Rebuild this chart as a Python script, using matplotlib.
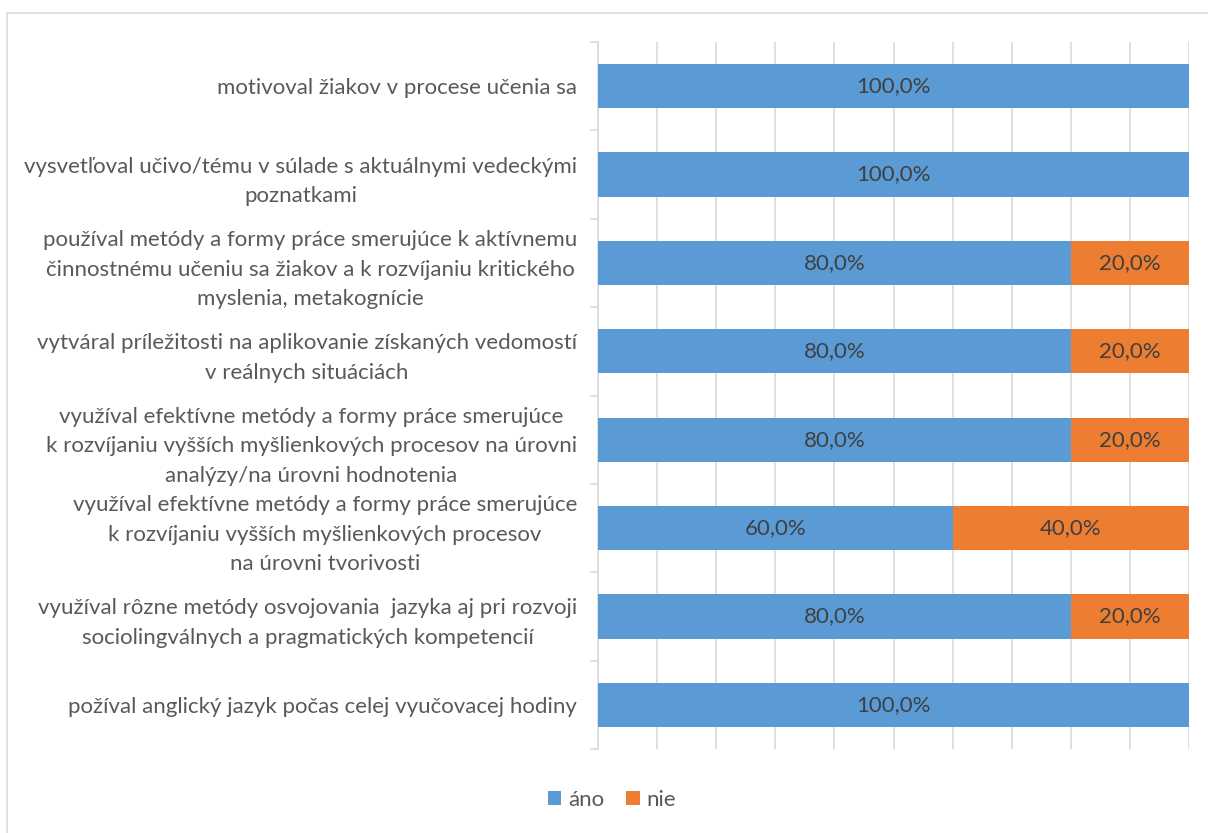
import matplotlib
matplotlib.use("Agg")
import matplotlib.pyplot as plt
from matplotlib.patches import Rectangle
import numpy as np

plt.rcParams['font.family'] = ['Lato', 'DejaVu Sans']

# categories, top to bottom
categories = [
    "motivoval žiakov v procese učenia sa",
    "vysvetľoval učivo/tému v súlade s aktuálnymi vedeckými\npoznatkami",
    "používal metódy a formy práce smerujúce k aktívnemu\nčinnostnému učeniu sa žiakov a k rozvíjaniu kritického\nmyslenia, metakognície",
    "vytváral príležitosti na aplikovanie získaných vedomostí\nv reálnych situáciách",
    "využíval efektívne metódy a formy práce smerujúce\nk rozvíjaniu vyšších myšlienkových procesov na úrovni\nanalýzy/na úrovni hodnotenia",
    "využíval efektívne metódy a formy práce smerujúce\nk rozvíjaniu vyšších myšlienkových procesov\nna úrovni tvorivosti",
    "využíval rôzne metódy osvojovania  jazyka aj pri rozvoji\nsociolingválnych a pragmatických kompetencií",
    "požíval anglický jazyk počas celej vyučovacej hodiny",
]
ano = [100.0, 100.0, 80.0, 80.0, 80.0, 60.0, 80.0, 100.0]
nie = [0.0, 0.0, 20.0, 20.0, 20.0, 40.0, 20.0, 0.0]
series_names = ["áno", "nie"]
colors = ["#5B9BD5", "#ED7D31"]

W, H = 1208, 833
fig = plt.figure(figsize=(W / 100, H / 100), dpi=100)
fig.patches.append(Rectangle((7 / W, -0.05), 1.2, 1 - 13 / H + 0.05,
                             transform=fig.transFigure, fill=False,
                             edgecolor="#D9D9D9", linewidth=1.2))

ax = fig.add_axes([598 / W, 84 / H, (1189 - 598) / W, (749 - 42) / H])
y = np.arange(len(categories))

b1 = ax.barh(y, ano, height=0.5, color=colors[0], label=series_names[0], zorder=3)
b2 = ax.barh(y, nie, left=ano, height=0.5, color=colors[1], label=series_names[1], zorder=3)

for bars, vals in ((b1, ano), (b2, nie)):
    for rect, v in zip(bars, vals):
        if v > 0:
            ax.text(rect.get_x() + rect.get_width() / 2, rect.get_y() + rect.get_height() / 2,
                    f"{v:.1f}%".replace(".", ","), ha="center", va="center",
                    fontsize=16, color="#404040", zorder=4)

ax.set_xlim(0, 100)
ax.set_ylim(len(categories) - 0.5, -0.5)
ax.set_xticks(np.arange(0, 101, 10))
ax.set_xticklabels([])
ax.tick_params(axis="x", length=0)
ax.grid(axis="x", color="#D9D9D9", linewidth=1.2, zorder=0)

ax.set_yticks(y)
ax.set_yticklabels(categories, ha="right", multialignment="center",
                   fontsize=16, color="#595959", linespacing=1.6)
ax.tick_params(axis="y", which="major", length=0, pad=15)
ax.set_yticks(np.arange(-0.5, len(categories) + 0.5, 1), minor=True)
ax.tick_params(axis="y", which="minor", length=6, color="#D9D9D9", width=1.2)

for s in ("top", "right", "bottom"):
    ax.spines[s].set_visible(False)
ax.spines["left"].set_color("#D9D9D9")
ax.spines["left"].set_linewidth(1.2)

fig.legend(handles=[b1, b2], labels=series_names, loc="center",
           bbox_to_anchor=(612 / W, 1 - 800 / H), ncol=2, frameon=False,
           fontsize=16, labelcolor="#595959", handlelength=0.6, handleheight=0.6,
           handletextpad=0.3, columnspacing=1.0)

fig.savefig("out.png", dpi=100)
